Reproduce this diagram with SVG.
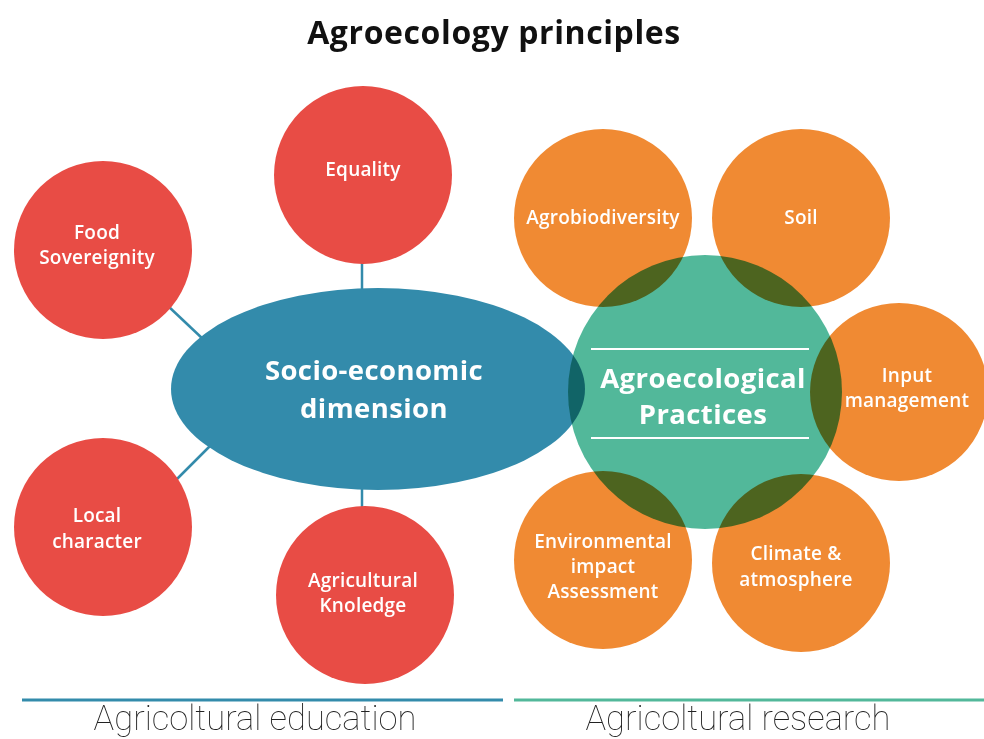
<svg xmlns="http://www.w3.org/2000/svg" width="984" height="739" viewBox="0 0 984 739">
<style>
.red{fill:#e84c45}
.orange{fill:#f08a33}
.lbl{font-family:"Open Sans","Liberation Sans",sans-serif;font-weight:600;fill:#fff;text-anchor:middle;font-size:19px;letter-spacing:0.2px}
.big{font-size:27.5px;font-weight:700;letter-spacing:0.4px}
.conn{stroke:#338bab;stroke-width:2.5;fill:none}
.foot{font-family:Roboto,"Liberation Sans",sans-serif;font-weight:100;font-size:34.5px;fill:#222;text-anchor:middle}
</style>
<rect width="984" height="739" fill="#fff"/>
<text x="494" y="44" style="font-family:'Open Sans','Liberation Sans',sans-serif;font-weight:700;font-size:32px;letter-spacing:0.6px;fill:#111" text-anchor="middle">Agroecology principles</text>
<g id="connectors">
<line class="conn" x1="362" y1="262" x2="362" y2="292"/>
<line class="conn" x1="362" y1="486" x2="362" y2="510"/>
<line class="conn" x1="168" y1="306" x2="204" y2="340"/>
<line class="conn" x1="176" y1="480" x2="210" y2="446"/>
</g>
<g id="equality"><circle class="red" cx="363" cy="175" r="89"/><text class="lbl" x="363" y="176">Equality</text></g>
<g id="food-sovereignity"><circle class="red" cx="103" cy="250" r="89"/><text class="lbl" x="97" y="239">Food</text><text class="lbl" x="97" y="264">Sovereignity</text></g>
<g id="local-character"><circle class="red" cx="103" cy="527" r="89"/><text class="lbl" x="97" y="522">Local</text><text class="lbl" x="97" y="548">character</text></g>
<g id="agricultural-knoledge"><circle class="red" cx="365" cy="595" r="89"/><text class="lbl" x="363" y="587">Agricultural</text><text class="lbl" x="363" y="612">Knoledge</text></g>
<g id="socio-economic"><ellipse cx="378" cy="389" rx="207" ry="101" fill="#338bab"/><text class="lbl big" x="374" y="380">Socio-economic</text><text class="lbl big" x="374" y="418">dimension</text></g>
<g id="agrobiodiversity"><circle class="orange" cx="603" cy="218" r="89"/><text class="lbl" x="603" y="224">Agrobiodiversity</text></g>
<g id="soil"><circle class="orange" cx="801" cy="218" r="89"/><text class="lbl" x="801" y="224">Soil</text></g>
<g id="input-management"><circle class="orange" cx="899" cy="392" r="89"/><text class="lbl" x="907" y="382">Input</text><text class="lbl" x="907" y="407">management</text></g>
<g id="environmental"><circle class="orange" cx="603" cy="560" r="89"/><text class="lbl" x="603" y="548">Environmental</text><text class="lbl" x="603" y="573">impact</text><text class="lbl" x="603" y="598">Assessment</text></g>
<g id="climate"><circle class="orange" cx="801" cy="563" r="89"/><text class="lbl" x="796" y="560">Climate &amp;</text><text class="lbl" x="796" y="586">atmosphere</text></g>
<g id="agroecological-practices">
<circle cx="705" cy="392" r="137" fill="#52b89a" style="mix-blend-mode:multiply"/>
<line x1="591" y1="349" x2="809" y2="349" stroke="#fff" stroke-width="2"/>
<line x1="591" y1="438" x2="809" y2="438" stroke="#fff" stroke-width="2"/>
<text class="lbl big" x="703" y="388">Agroecological</text><text class="lbl big" x="703" y="424">Practices</text>
</g>
<line x1="22" y1="700" x2="503" y2="700" stroke="#338bab" stroke-width="3"/>
<line x1="514" y1="700" x2="984" y2="700" stroke="#52b89a" stroke-width="3"/>
<text class="foot" x="255" y="730">Agricoltural education</text>
<text class="foot" x="738" y="730">Agricoltural research</text>
</svg>
